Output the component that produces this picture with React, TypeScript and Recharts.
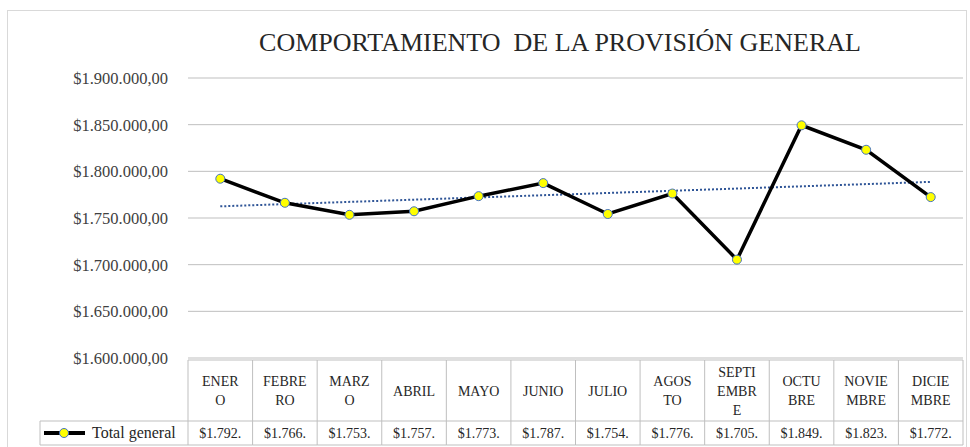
import { CartesianGrid, Line, LineChart, XAxis, YAxis } from 'recharts';

const meses = [
  'ENERO', 'FEBRERO', 'MARZO', 'ABRIL', 'MAYO', 'JUNIO',
  'JULIO', 'AGOSTO', 'SEPTIEMBRE', 'OCTUBRE', 'NOVIEMBRE', 'DICIEMBRE'
];

// how Excel wrapped the month names inside the data table cells
const etiquetasMes = [
  'ENER\nO', 'FEBRE\nRO', 'MARZ\nO', 'ABRIL', 'MAYO', 'JUNIO',
  'JULIO', 'AGOS\nTO', 'SEPTI\nEMBR\nE', 'OCTU\nBRE', 'NOVIE\nMBRE', 'DICIE\nMBRE'
];

const totalGeneral = [
  1792100, 1766300, 1753400, 1757200, 1773400, 1787400,
  1754300, 1776200, 1705400, 1849300, 1823100, 1772400
];

// linear trendline, read at ENERO and DICIEMBRE
const tendencia = [1762500, 1788700];

const ticksY = [1600000, 1650000, 1700000, 1750000, 1800000, 1850000, 1900000];

const data = meses.map((mes, i) => ({
  mes,
  total: totalGeneral[i],
  tendencia: i === 0 ? tendencia[0] : i === meses.length - 1 ? tendencia[1] : null
}));

const ANCHO = 970;
const ALTO = 447;
const IZQ = 188;
const DER = 7;
const COL = (ANCHO - IZQ - DER) / meses.length;
const FUENTE = '"Times New Roman", "Liberation Serif", serif';
const BORDE = '#bfbfbf';

const miles = (n: number) => String(n).replace(/\B(?=(\d{3})+(?!\d))/g, '.');
const formatoY = (v: number) => `$${miles(v)},00`;
// the table column is too narrow, so Excel cuts the value after the thousands
const formatoCelda = (v: number) => `$${(Math.floor(v / 1000) / 1000).toFixed(3)}.`;

function CeldaTabla(props: any) {
  const { x, y, payload } = props;
  const i = meses.indexOf(payload.value);
  const izq = x - COL / 2;
  const der = x + COL / 2;
  const top = y + 2;
  const corte = y + 63;
  const fondo = y + 87;
  const lineas = etiquetasMes[i].split('\n');
  const centro = (top + corte) / 2;
  const inicio = centro - ((lineas.length - 1) * 19) / 2;

  return (
    <g>
      <line x1={izq} x2={izq} y1={top} y2={fondo} stroke={BORDE} />
      {i === meses.length - 1 && <line x1={der} x2={der} y1={top} y2={fondo} stroke={BORDE} />}
      <line x1={izq} x2={der} y1={top} y2={top} stroke={BORDE} />
      <line x1={izq} x2={der} y1={corte} y2={corte} stroke={BORDE} />
      <line x1={izq} x2={der} y1={fondo} y2={fondo} stroke={BORDE} />
      {lineas.map((t, k) => (
        <text
          key={k}
          x={x}
          y={inicio + k * 19}
          dy={5}
          textAnchor="middle"
          fontFamily={FUENTE}
          fontSize={14}
          fill="#262626"
        >
          {t}
        </text>
      ))}
      <text
        x={x}
        y={(corte + fondo) / 2}
        dy={5}
        textAnchor="middle"
        fontFamily={FUENTE}
        fontSize={14}
        fill="#262626"
      >
        {formatoCelda(totalGeneral[i])}
      </text>
      {i === 0 && (
        <g>
          <line x1={40} x2={izq} y1={corte} y2={corte} stroke={BORDE} />
          <line x1={40} x2={izq} y1={fondo} y2={fondo} stroke={BORDE} />
          <line x1={40} x2={40} y1={corte} y2={fondo} stroke={BORDE} />
          <line x1={44} x2={85} y1={(corte + fondo) / 2} y2={(corte + fondo) / 2} stroke="#000" strokeWidth={4} />
          <circle cx={64} cy={(corte + fondo) / 2} r={4.5} fill="#ffff00" stroke="#4472c4" strokeWidth={1} />
          <text
            x={92}
            y={(corte + fondo) / 2}
            dy={5}
            fontFamily={FUENTE}
            fontSize={16}
            fill="#262626"
          >
            Total general
          </text>
        </g>
      )}
    </g>
  );
}

export default function App() {
  return (
    <div style={{ position: 'absolute', left: 0, top: 0, width: ANCHO, height: ALTO, background: '#fff', overflow: 'hidden' }}>
      <div
        style={{
          position: 'absolute',
          left: 7,
          top: 10,
          width: 960,
          height: 460,
          border: '1px solid #d9d9d9',
          boxSizing: 'border-box'
        }}
      />
      <div
        style={{
          position: 'absolute',
          left: 0,
          width: ANCHO,
          top: 28,
          textAlign: 'center',
          paddingLeft: 150,
          boxSizing: 'border-box',
          fontFamily: FUENTE,
          fontSize: 26,
          color: '#262626',
          whiteSpace: 'pre'
        }}
      >
        {'COMPORTAMIENTO  DE LA PROVISIÓN GENERAL'}
      </div>
      <div style={{ position: 'absolute', left: 0, top: 0 }}>
        <LineChart width={ANCHO} height={ALTO} data={data} margin={{ top: 78, right: DER, left: 0, bottom: 0 }}>
          <CartesianGrid vertical={false} stroke={BORDE} />
          <XAxis
            dataKey="mes"
            height={89}
            padding={{ left: COL / 2, right: COL / 2 }}
            axisLine={false}
            tickLine={false}
            tickSize={0}
            tickMargin={0}
            interval={0}
            tick={<CeldaTabla />}
          />
          <YAxis
            width={IZQ}
            domain={[1600000, 1900000]}
            ticks={ticksY}
            tickFormatter={formatoY}
            axisLine={false}
            tickLine={false}
            tickSize={0}
            tickMargin={20}
            tick={{ fontFamily: FUENTE, fontSize: 16.5, fill: '#404040' }}
          />
          <Line
            dataKey="tendencia"
            stroke="#2f5597"
            strokeWidth={2}
            strokeDasharray="2 2"
            dot={false}
            connectNulls
            isAnimationActive={false}
          />
          <Line
            dataKey="total"
            stroke="#000"
            strokeWidth={3.5}
            dot={{ r: 4.5, fill: '#ffff00', stroke: '#4472c4', strokeWidth: 1 }}
            isAnimationActive={false}
          />
        </LineChart>
      </div>
    </div>
  );
}
